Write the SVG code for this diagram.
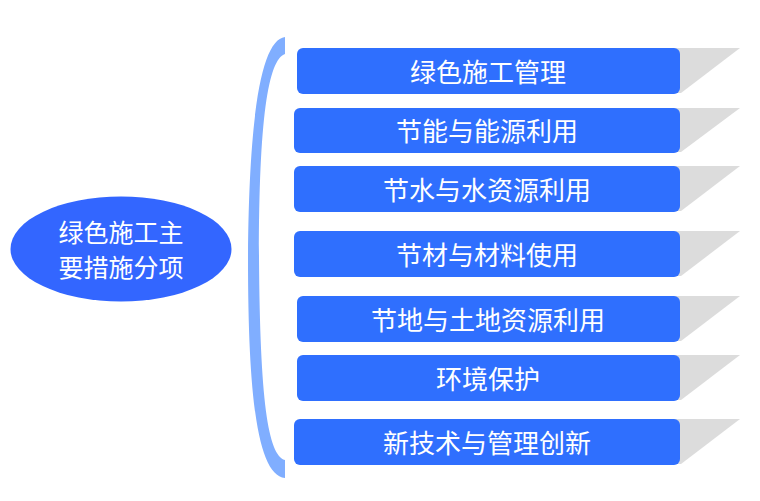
<svg xmlns="http://www.w3.org/2000/svg" width="760" height="501" viewBox="0 0 760 501">
<style>
.box{fill:#2F6FFE;}
.shadow{fill:#DCDCDC;}
.t{font-family:"Noto Sans CJK SC","Liberation Sans",sans-serif;font-size:26px;fill:#FFFFFF;text-anchor:middle;dominant-baseline:central;}
.e{font-size:25px;}
</style>
<rect width="760" height="501" fill="#FFFFFF"/>
<g id="connectors">
<path d="M285,37 C262,40 249,110 248,258 C248,400 258,475 285,478 L285,460 C268,455 260,400 259,258 C259,120 268,60 285,54 Z" fill="#80AEFF"/>
</g>
<g id="root">
<ellipse cx="121" cy="249" rx="110.5" ry="52.5" fill="#3366FF"/>
<text class="t e" x="121" y="231">绿色施工主</text>
<text class="t e" x="121" y="266">要措施分项</text>
</g>
<g id="n1">
<path class="shadow" d="M670,48 L740,48 L681,93 L670,93 Z"/>
<rect class="box" x="297" y="48" width="383" height="46" rx="6"/>
<text class="t" x="488" y="70">绿色施工管理</text>
</g>
<g id="n2">
<path class="shadow" d="M670,108 L740,108 L681,152 L670,152 Z"/>
<rect class="box" x="294" y="108" width="386" height="45" rx="6"/>
<text class="t" x="487" y="129">节能与能源利用</text>
</g>
<g id="n3">
<path class="shadow" d="M670,166 L740,166 L681,211 L670,211 Z"/>
<rect class="box" x="294" y="166" width="386" height="46" rx="6"/>
<text class="t" x="487" y="188">节水与水资源利用</text>
</g>
<g id="n4">
<path class="shadow" d="M670,231 L740,231 L681,276 L670,276 Z"/>
<rect class="box" x="294" y="231" width="386" height="46" rx="6"/>
<text class="t" x="487" y="253">节材与材料使用</text>
</g>
<g id="n5">
<path class="shadow" d="M670,296 L740,296 L681,341 L670,341 Z"/>
<rect class="box" x="297" y="296" width="383" height="46" rx="6"/>
<text class="t" x="488" y="318">节地与土地资源利用</text>
</g>
<g id="n6">
<path class="shadow" d="M670,355 L740,355 L681,400 L670,400 Z"/>
<rect class="box" x="297" y="355" width="383" height="46" rx="6"/>
<text class="t" x="488" y="377">环境保护</text>
</g>
<g id="n7">
<path class="shadow" d="M670,419 L740,419 L681,464 L670,464 Z"/>
<rect class="box" x="294" y="419" width="386" height="46" rx="6"/>
<text class="t" x="487" y="441">新技术与管理创新</text>
</g>
</svg>
